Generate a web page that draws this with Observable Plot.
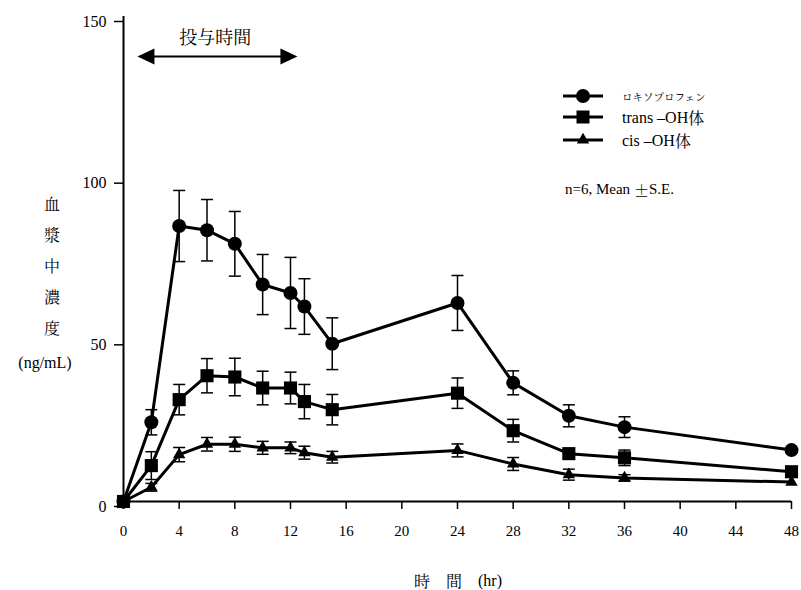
<!DOCTYPE html>
<html>
<head>
<meta charset="utf-8">
<script src="https://cdn.jsdelivr.net/npm/d3@7"></script>
<script src="https://cdn.jsdelivr.net/npm/@observablehq/plot@0.6"></script>
<style>
  body { margin: 0; background: #fff; }
  #wrap { position: relative; width: 801px; height: 590px; }
  #wrap svg { position: absolute; left: 0; top: 0; }
</style>
</head>
<body>
<div id="wrap"></div>
<script>
// ---- data ----
const times      = [0, 2, 4, 6, 8, 10, 12, 13, 15, 24, 28, 32, 36, 48];
const loxMean    = [0, 24.5, 85.2, 83.9, 79.7, 67.1, 64.5, 60.3, 48.8, 61.4, 36.7, 26.5, 23.0, 15.9];
const loxSE      = [0, 3.9, 11.0, 9.5, 10.0, 9.3, 11.0, 8.6, 8.0, 8.5, 3.7, 3.4, 3.2, 0];
const transMean  = [0, 11.1, 31.5, 38.9, 38.5, 35.1, 35.1, 30.9, 28.4, 33.5, 21.9, 14.8, 13.5, 9.2];
const transSE    = [0, 4.3, 4.7, 5.3, 5.8, 5.2, 4.9, 5.3, 4.7, 4.7, 3.5, 1.0, 2.4, 0];
const cisMean    = [0, 4.4, 14.5, 17.7, 17.7, 16.6, 16.6, 15.1, 13.7, 15.8, 11.6, 8.3, 7.3, 6.0];
const cisSE      = [0, 1.2, 2.2, 2.1, 2.2, 2.0, 1.8, 2.0, 1.8, 2.0, 2.0, 1.7, 1.0, 0];
const seriesNames = ["ロキソプロフェン", "trans –OH体", "cis –OH体"];
const xTicks = [0, 4, 8, 12, 16, 20, 24, 28, 32, 36, 40, 44, 48];
const yTicks = [0, 50, 100, 150];
const doseSpan = [1.0, 12.5];     // arrow ends (hr) of dosing period annotation
const doseArrowY = [137.6];
const doseLabel = ["投与時間"];
const doseLabelPos = [6.6, 143.3];

// ---- build ----
const SERIF = "Liberation Serif";
const MINCHO = "Noto Serif CJK JP";

function rows(mean, se, name) {
  return times.map((t, i) => ({t, v: mean[i], se: se[i], name}));
}
const lox = rows(loxMean, loxSE, seriesNames[0]);
const trans = rows(transMean, transSE, seriesNames[1]);
const cis = rows(cisMean, cisSE, seriesNames[2]);
const all = [...cis, ...trans, ...lox];
const withErr = all.filter(d => d.se > 0);

const capSymbol = { draw(ctx) { ctx.moveTo(-6, 0); ctx.lineTo(6, 0); } };
const headLeft = { draw(ctx) { ctx.moveTo(0, 0); ctx.lineTo(17, -8); ctx.lineTo(17, 8); ctx.closePath(); } };
const headRight = { draw(ctx) { ctx.moveTo(0, 0); ctx.lineTo(-17, -8); ctx.lineTo(-17, 8); ctx.closePath(); } };

const chart = Plot.plot({
  width: 801,
  height: 590,
  marginLeft: 123,
  marginRight: 10,
  marginTop: 16,
  marginBottom: 89,
  style: { fontFamily: SERIF, fontSize: "15px", background: "#fff", color: "#000" },
  x: { domain: [0, 48] },
  y: { domain: [0, 150] },
  marks: [
    Plot.axisX({ ticks: xTicks, tickSize: 8, tickPadding: 16, stroke: "#000", strokeWidth: 1.5, fontSize: 15, fontFamily: SERIF, label: null }),
    Plot.axisY({ ticks: yTicks, tickSize: 9, tickPadding: 8, stroke: "#000", strokeWidth: 1.5, fontSize: 16, fontFamily: SERIF, dy: 5, label: null }),
    Plot.ruleX([0], { y1: 0, y2: 150, stroke: "#000", strokeWidth: 2 }),
    Plot.ruleY([0], { x1: 0, x2: 48, stroke: "#000", strokeWidth: 2 }),
    // error bars
    Plot.ruleX(withErr, { x: "t", y1: d => d.v - d.se, y2: d => d.v + d.se, stroke: "#000", strokeWidth: 1.5 }),
    Plot.dot(withErr, { x: "t", y: d => d.v + d.se, symbol: capSymbol, stroke: "#000", strokeWidth: 1.5, fill: "none" }),
    Plot.dot(withErr, { x: "t", y: d => d.v - d.se, symbol: capSymbol, stroke: "#000", strokeWidth: 1.5, fill: "none" }),
    // lines
    Plot.line(all, { x: "t", y: "v", z: "name", stroke: "#000", strokeWidth: 3 }),
    // markers
    Plot.dot(cis, { x: "t", y: "v", symbol: "triangle", r: 4.6, fill: "#000" }),
    Plot.dot(trans, { x: "t", y: "v", symbol: "square", r: 7.4, fill: "#000" }),
    Plot.dot(lox, { x: "t", y: "v", symbol: "circle", r: 7, fill: "#000" }),
    // dosing period annotation
    Plot.ruleY(doseArrowY, { x1: doseSpan[0] + 0.8, x2: doseSpan[1] - 0.8, stroke: "#000", strokeWidth: 2 }),
    Plot.dot(doseArrowY, { x: () => doseSpan[0], y: d => d, symbol: headLeft, fill: "#000" }),
    Plot.dot(doseArrowY, { x: () => doseSpan[1], y: d => d, symbol: headRight, fill: "#000" }),
    Plot.text(doseLabel, { x: () => doseLabelPos[0], y: () => doseLabelPos[1], text: d => d, fontFamily: MINCHO, fontSize: 18, fill: "#000" })
  ]
});
document.getElementById("wrap").appendChild(chart);

// ---- overlay: axis titles and legend ----
const ov = d3.select("#wrap").append("svg")
  .attr("width", 801).attr("height", 590)
  .style("pointer-events", "none");

function addText(x, y, parts, size, anchor) {
  const t = ov.append("text").attr("x", x).attr("y", y)
    .attr("text-anchor", anchor || "start").attr("dominant-baseline", "central")
    .attr("font-size", size).attr("fill", "#000");
  parts.forEach(([s, fam]) => t.append("tspan").attr("font-family", fam).text(s));
  return t;
}

const yChars = ["血", "漿", "中", "濃", "度"];
const yCharY = [203, 234, 265, 296, 327];
yChars.forEach((c, i) => addText(52, yCharY[i], [[c, MINCHO]], 16, "middle"));
addText(45, 362, [["(ng/mL)", SERIF]], 16, "middle");

addText(458, 580, [["時　間　", MINCHO], ["(hr)", SERIF]], 16, "middle");

// legend
const legY = [96, 117, 140];
const legSym = [d3.symbolCircle, d3.symbolSquare, d3.symbolTriangle];
const legSize = [Math.PI * 49, 169, Math.PI * 4.6 * 4.6];
const legParts = [
  [[seriesNames[0], MINCHO]],
  [["trans –OH", SERIF], ["体", MINCHO]],
  [["cis –OH", SERIF], ["体", MINCHO]]
];
const legFont = [10.5, 16, 16];
seriesNames.forEach((n, i) => {
  ov.append("line").attr("x1", 563).attr("x2", 603).attr("y1", legY[i]).attr("y2", legY[i])
    .attr("stroke", "#000").attr("stroke-width", 3);
  ov.append("path").attr("d", d3.symbol(legSym[i], legSize[i])())
    .attr("transform", `translate(583,${legY[i]})`).attr("fill", "#000");
  addText(622, legY[i], legParts[i], legFont[i]);
});
addText(565, 189, [["n=6, Mean ", SERIF], ["±", MINCHO], ["S.E.", SERIF]], 15);
</script>
</body>
</html>
